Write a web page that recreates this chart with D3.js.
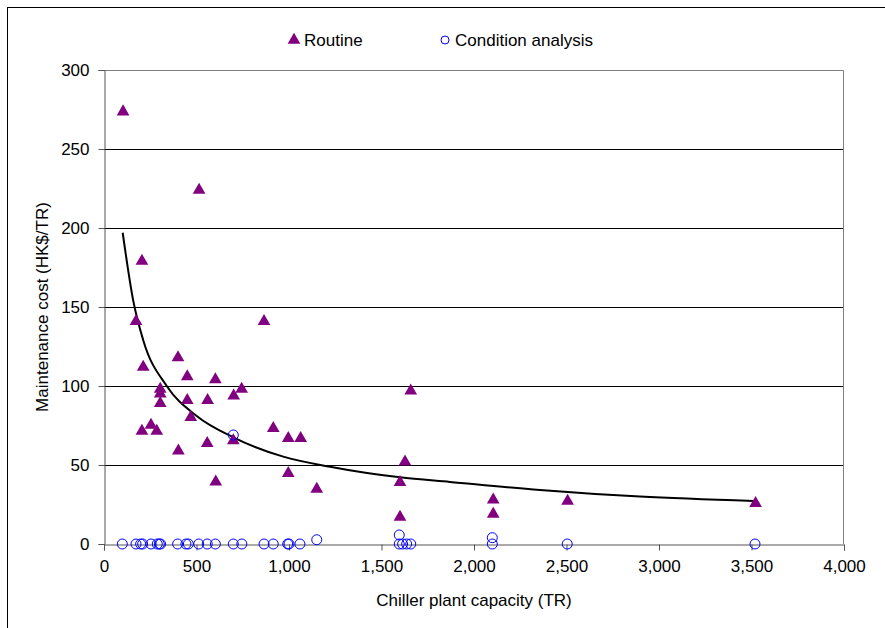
<!DOCTYPE html>
<html>
<head>
<meta charset="utf-8">
<script src="https://cdn.jsdelivr.net/npm/d3@7"></script>
<style>
  html, body { margin: 0; padding: 0; background: #fff; }
  svg { display: block; font-family: "Liberation Sans", Arial, sans-serif; }
</style>
</head>
<body>
<svg id="chart" width="885" height="628"></svg>
<script>
// Routine maintenance: capacity (TR) vs cost (HK$/TR)
const routineX = [103, 514, 205, 173, 865, 212, 400, 450, 602, 744, 1658, 304, 304, 304, 450, 560, 701, 469, 915,
    996, 1063, 205, 254, 285, 402, 558, 699, 604, 996, 1150, 1627, 1600, 1600, 2104, 2104, 2506, 3522];
const routineY = [273.6, 224, 179, 141, 141, 112, 118, 106, 104, 98, 97, 98, 95, 89, 91, 91, 93.7, 80.2, 73.2,
    66.9, 66.9, 71.5, 75.3, 71.5, 59, 63.7, 65.4, 39.4, 44.7, 34.8, 52, 39, 17, 28, 19, 27.2, 25.8];

// Condition analysis
const condX = [99, 173, 198, 209, 254, 288, 299, 306, 398, 443, 456, 512, 558, 602, 699, 745, 865, 915, 993, 1000,
    1059, 1150, 699, 1596, 1596, 1614, 1636, 1658, 2099, 2099, 2504, 3519];
const condY = [0, 0, 0, 0, 0, 0, 0, 0, 0, 0, 0, 0, 0, 0, 0, 0, 0, 0, 0, 0,
    0, 2.7, 69, 5.7, 0, 0, 0, 0, 4, 0, 0, 0];

// Trend line
const trendX = [101, 158, 212, 339, 501, 699, 969, 1222, 1600, 1870, 2357, 2897, 3510];
const trendY = [197, 154, 129, 100, 81, 67.5, 55.3, 48.9, 42.2, 39.3, 34.2, 30, 27.2];

const xTicks = [0, 500, 1000, 1500, 2000, 2500, 3000, 3500, 4000];
const yTicks = [0, 50, 100, 150, 200, 250, 300];

const FONT = "17px";
const svg = d3.select("#chart");

// outer chart frame
svg.append("rect")
    .attr("x", 7.5).attr("y", 7.5)
    .attr("width", 900).attr("height", 700)
    .attr("fill", "none").attr("stroke", "#000").attr("stroke-width", 1);

const margin = { top: 70, right: 41, bottom: 84, left: 104 };
const W = 885, H = 628;
const width = W - margin.left - margin.right;
const height = H - margin.top - margin.bottom;

const g = svg.append("g").attr("transform", `translate(${margin.left},${margin.top})`);

const x = d3.scaleLinear().domain([0, 4000]).range([0, width]);
const y = d3.scaleLinear().domain([0, 300]).range([height, 0]);

// gridlines
g.append("g")
    .selectAll("line")
    .data(yTicks.filter(d => d > 0 && d < 300))
    .join("line")
    .attr("x1", 0).attr("x2", width)
    .attr("y1", d => Math.round(y(d)) + 0.5).attr("y2", d => Math.round(y(d)) + 0.5)
    .attr("stroke", "#000").attr("stroke-width", 1);

// plot area border (top, right)
g.append("path")
    .attr("d", `M0,0.5H${width - 0.5}V${height}`)
    .attr("fill", "none").attr("stroke", "#808080");

// axes
const xAxis = g.append("g")
    .attr("transform", `translate(0,${Math.round(height) + 0.5})`)
    .call(d3.axisBottom(x).tickValues(xTicks).tickSize(6).tickPadding(9).tickFormat(d3.format(",")));
const yAxis = g.append("g")
    .attr("transform", "translate(0.5,0)")
    .call(d3.axisLeft(y).tickValues(yTicks).tickSize(6).tickPadding(9));

[xAxis, yAxis].forEach(a => {
    a.select(".domain").attr("stroke", "#555");
    a.selectAll(".tick line").attr("stroke", "#555");
    a.selectAll("text").attr("fill", "#000").style("font-size", FONT)
        .style("font-family", "'Liberation Sans', Arial, sans-serif");
});

// axis titles
g.append("text")
    .attr("x", width / 2).attr("y", height + 62)
    .attr("text-anchor", "middle")
    .style("font-size", FONT)
    .text("Chiller plant capacity (TR)");

g.append("text")
    .attr("transform", `translate(${-56},${height / 2}) rotate(-90)`)
    .attr("text-anchor", "middle")
    .style("font-size", FONT)
    .text("Maintenance cost (HK$/TR)");

// trend line
const trend = trendX.map((d, i) => [d, trendY[i]]);
g.append("path")
    .datum(trend)
    .attr("fill", "none").attr("stroke", "#000").attr("stroke-width", 2)
    .attr("d", d3.line().x(d => x(d[0])).y(d => y(d[1])).curve(d3.curveMonotoneX));

// markers
const tri = d3.symbol().type(d3.symbolTriangle).size(70);
const routine = routineX.map((d, i) => [d, routineY[i]]);
const cond = condX.map((d, i) => [d, condY[i]]);

g.append("g").selectAll("path")
    .data(routine)
    .join("path")
    .attr("transform", d => `translate(${x(d[0])},${y(d[1])})`)
    .attr("d", tri)
    .attr("fill", "#800080");

g.append("g").selectAll("circle")
    .data(cond)
    .join("circle")
    .attr("cx", d => x(d[0])).attr("cy", d => y(d[1]))
    .attr("r", 5)
    .attr("fill", "none").attr("stroke", "#0000ff").attr("stroke-width", 1);

// legend
const lg = svg.append("g").attr("transform", "translate(0,40)");
lg.append("path").attr("transform", "translate(294,0)").attr("d", tri).attr("fill", "#800080");
lg.append("text").attr("x", 304).attr("y", 6).style("font-size", FONT).text("Routine");
lg.append("circle").attr("cx", 445).attr("cy", 0).attr("r", 4).attr("fill", "none").attr("stroke", "#0000ff");
lg.append("text").attr("x", 455).attr("y", 6).style("font-size", FONT).text("Condition analysis");
</script>
</body>
</html>
